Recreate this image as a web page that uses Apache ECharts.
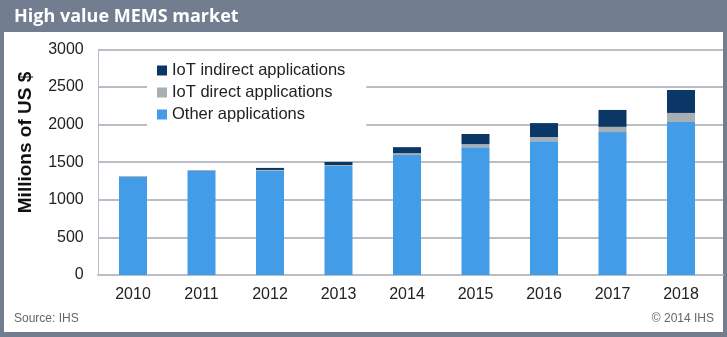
<!DOCTYPE html>
<html><head><meta charset="utf-8">
<script src="https://cdn.jsdelivr.net/npm/echarts@6/dist/echarts.min.js"></script>
<style>html,body{margin:0;padding:0;background:#fff}#c{width:727px;height:337px}</style>
</head><body><div id="c"></div>
<script>
const years = ['2010','2011','2012','2013','2014','2015','2016','2017','2018'];
const otherApps = [1305, 1383, 1385, 1450, 1595, 1700, 1780, 1900, 2035];
const iotDirect = [12, 13, 12, 13, 25, 40, 55, 70, 120];
const iotIndirect = [0, 0, 27, 40, 80, 135, 185, 225, 305];
const yTicks = [0, 500, 1000, 1500, 2000, 2500, 3000];
const seriesNames = ['IoT indirect applications', 'IoT direct applications', 'Other applications'];

const FRAME = '#727E8F';
const GRIDC = '#B9BDC6';
const FONT = 'Liberation Sans, Arial, sans-serif';
const chart = echarts.init(document.getElementById('c'));
const yMax = yTicks[yTicks.length-1];
const yInt = yTicks[1]-yTicks[0];
chart.setOption({
  backgroundColor: '#fff',
  animation: false,
  grid: [
    {left: 98.75, width: 616.5, top: 49.4, bottom: 62, containLabel: false},
    {left: 98, right: 4, top: 49.4, bottom: 62, containLabel: false}
  ],
  legend: {
    orient: 'vertical', left: 147, top: 53,
    data: seriesNames,
    backgroundColor: '#fff',
    padding: [9, 21, 9, 10],
    itemWidth: 10, itemHeight: 10, itemGap: 5, icon: 'rect',
    textStyle: {fontFamily: FONT, fontSize: 16.5, color: '#222'}
  },
  xAxis: [
    {type: 'category', data: years, gridIndex: 0,
     axisLine: {show: false}, axisTick: {show: false},
     axisLabel: {fontFamily: FONT, fontSize: 16, color: '#222', margin: 12}},
    {type: 'value', gridIndex: 1, min: 0, max: 1, show: true,
     axisLine: {show: true, lineStyle: {color: GRIDC, width: 2}}, axisTick: {show: false},
     axisLabel: {show: false}, splitLine: {show: false}}
  ],
  yAxis: [
    {type: 'value', gridIndex: 0, min: 0, max: yMax, interval: yInt,
     axisLine: {show: false}, axisTick: {show: false}, splitLine: {show: false},
     axisLabel: {fontFamily: FONT, fontSize: 16, color: '#222', margin: 15, formatter: v => String(v)}},
    {type: 'value', gridIndex: 1, min: 0, max: yMax, interval: yInt,
     axisLine: {show: true, lineStyle: {color: GRIDC, width: 1}}, axisTick: {show: false},
     axisLabel: {show: false},
     splitLine: {show: true, lineStyle: {color: GRIDC, width: 2}}}
  ],
  series: [
    {name: seriesNames[2], type: 'bar', stack: 's', data: otherApps, barWidth: 28, itemStyle: {color: '#439CE8'}, xAxisIndex: 0, yAxisIndex: 0, z: 5},
    {name: seriesNames[1], type: 'bar', stack: 's', data: iotDirect, barWidth: 28, itemStyle: {color: '#A8AFB2'}, xAxisIndex: 0, yAxisIndex: 0, z: 5},
    {name: seriesNames[0], type: 'bar', stack: 's', data: iotIndirect, barWidth: 28, itemStyle: {color: '#0A3766'}, xAxisIndex: 0, yAxisIndex: 0, z: 5}
  ],
  graphic: [
    {type: 'rect', shape: {x: 0, y: 0, width: 727, height: 32}, style: {fill: FRAME}, silent: true},
    {type: 'rect', shape: {x: 0, y: 0, width: 4, height: 337}, style: {fill: FRAME}, silent: true},
    {type: 'rect', shape: {x: 723, y: 0, width: 4, height: 337}, style: {fill: FRAME}, silent: true},
    {type: 'rect', shape: {x: 0, y: 332, width: 727, height: 5}, style: {fill: FRAME}, silent: true},
    {type: 'text', x: 14, y: 17, style: {text: 'High value MEMS market', fill: '#fff', font: 'bold 18px "Open Sans", sans-serif', textVerticalAlign: 'middle', verticalAlign: 'middle'}},
    {type: 'text', x: 26, y: 142.5, rotation: Math.PI/2, style: {text: 'Millions of US $', fill: '#111', font: 'bold 19px "Liberation Sans", Arial, sans-serif', align: 'center', verticalAlign: 'middle'}},
    {type: 'text', x: 14, y: 319, style: {text: 'Source: IHS', fill: '#666', font: '12px "Liberation Sans", Arial, sans-serif', verticalAlign: 'middle'}},
    {type: 'text', x: 714, y: 319, style: {text: '© 2014 IHS', fill: '#666', font: '12px "Liberation Sans", Arial, sans-serif', align: 'right', verticalAlign: 'middle'}}
  ]
});
</script></body></html>
